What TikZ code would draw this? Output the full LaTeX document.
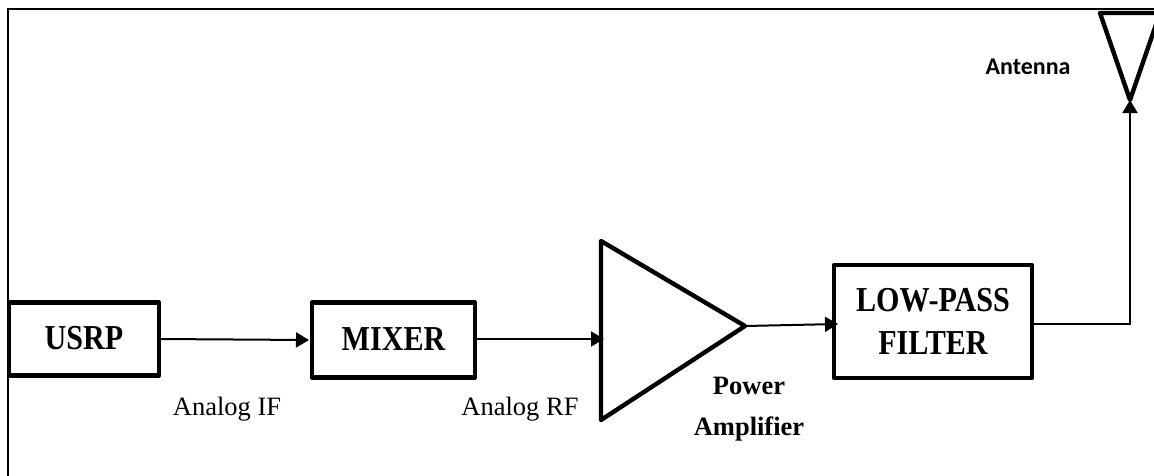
\documentclass[tikz,border=0pt]{standalone}
\usepackage{fontspec}
\setmainfont{Liberation Serif}
\newfontfamily\tallserif[FakeStretch=0.86]{Liberation Serif}
\newfontfamily\labelsans{Carlito}
\usetikzlibrary{arrows.meta}
\tikzset{
  x=1pt,y=-1pt,
  block/.style={draw=black,line width=4.4pt,rectangle,inner sep=0pt,align=center,font=\tallserif\fontsize{35}{43}\selectfont\bfseries,line join=round},
  amp/.style={draw=black,line width=4.4pt,line join=round},
  link/.style={draw=black,line width=2pt},
  tip/.style={-{Triangle[length=13pt,width=15pt]}},
  plain/.style={font=\fontsize{26.5}{30}\selectfont,inner sep=0pt},
  boldlabel/.style={font=\fontsize{26.5}{41}\selectfont\bfseries,inner sep=0pt,align=center},
  anchorlabel/.style={font=\labelsans\fontsize{24}{28}\selectfont\bfseries,inner sep=0pt},
}
\begin{document}
\begin{tikzpicture}
\useasboundingbox (0,0) rectangle (1154,475);
\draw[black,line width=2pt] (7.5,480) -- (7.5,9) -- (1160,9);
\node[block,minimum width=150pt,minimum height=73pt] (usrp) at (84,339) {\raisebox{1.5pt}{USRP}};
\node[block,minimum width=163pt,minimum height=75pt] (mixer) at (393.5,340) {\raisebox{1.5pt}{MIXER}};
\node[block,minimum width=198pt,minimum height=113pt] (filter) at (933,321.5) {\raisebox{1pt}{LOW-PASS}\\\raisebox{1pt}{FILTER}};
\coordinate (ampa) at (601,241);
\coordinate (ampb) at (601,420);
\coordinate (ampout) at (745,326);
\coordinate (ampin) at (604,339);
\draw[amp] (ampa) -- (ampout) -- (ampb) -- cycle;
\coordinate (anta) at (1100,13);
\coordinate (antb) at (1160,13);
\coordinate (anttip) at (1130,100);
\draw[amp] (anta) -- (antb) -- (anttip) -- cycle;
\coordinate (usrpout) at (160,339);
\coordinate (mixin) at (309,340);
\coordinate (mixout) at (476,339);
\coordinate (filtin) at (838,324);
\coordinate (filtout) at (1033,324);
\coordinate (corner) at (1130,324);
\draw[link,tip] (usrpout) -- (mixin);
\draw[link,tip] (mixout) -- (ampin);
\draw[link,tip] (ampout) -- (filtin);
\draw[link,tip] (filtout) -- (corner) -- (anttip);
\node[plain] (lif) at (227,409) {Analog IF};
\node[plain] (lrf) at (520,409) {Analog RF};
\node[boldlabel] (lpa) at (749,409) {Power\\Amplifier};
\node[anchorlabel] (lant) at (1028,67) {Antenna};
\end{tikzpicture}
\end{document}
